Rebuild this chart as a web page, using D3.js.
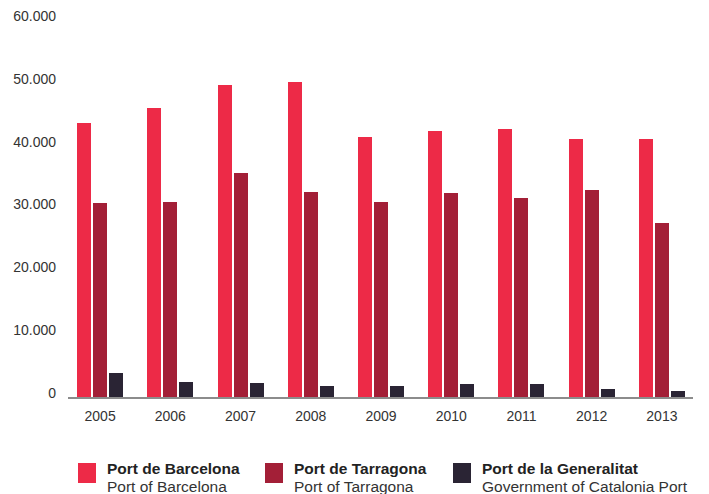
<!DOCTYPE html>
<html>
<head>
<meta charset="utf-8">
<script src="https://cdn.jsdelivr.net/npm/d3@7"></script>
<style>
	body { margin: 0; background: #fff; }
	svg { display: block; font-family: "Liberation Sans", Arial, Helvetica, sans-serif; }
	.tick text { fill: #333; font-size: 14px; }
</style>
</head>
<body>
<svg width="709" height="494"></svg>
<script>
var years = ["2005", "2006", "2007", "2008", "2009", "2010", "2011", "2012", "2013"];
var barcelona = [43600, 46000, 49700, 50200, 41400, 42400, 42700, 41100, 41100];
var tarragona = [30900, 31050, 35700, 32600, 31050, 32500, 31700, 33000, 27700];
var generalitat = [3800, 2400, 2200, 1750, 1750, 2070, 2070, 1270, 950];
var yTicks = [0, 10000, 20000, 30000, 40000, 50000, 60000];

var seriesNames = ["Port de Barcelona", "Port de Tarragona", "Port de la Generalitat"];
var seriesSub = ["Port of Barcelona", "Port of Tarragona", "Government of Catalonia Port"];
var colors = ["#ed2a47", "#a31f37", "#2a2434"];

var svg = d3.select("svg");

var data = years.map(function(y, i) {
	return { year: y, values: [barcelona[i], tarragona[i], generalitat[i]] };
});

var x0 = d3.scaleBand().domain(years).range([65, 697]);
var x1 = d3.scaleBand().domain([0, 1, 2]).range([0, 46]).paddingInner(0.125);
var y = d3.scaleLinear().domain([0, 60000]).range([397, 20.2]);

var locale = d3.formatLocale({ decimal: ",", thousands: ".", grouping: [3], currency: ["", "€"] });
var fmt = locale.format(",");

// y axis labels only
var yAxis = svg.append("g")
	.attr("transform", "translate(56,0)")
	.call(d3.axisLeft(y).tickValues(yTicks).tickFormat(fmt).tickSize(0).tickPadding(0));
yAxis.select(".domain").remove();
yAxis.selectAll("text").attr("dy", "0.02em").style("font-family", "inherit");

// bars
var groups = svg.append("g").selectAll("g")
	.data(data)
	.enter().append("g")
	.attr("transform", function(d) { return "translate(" + (x0(d.year) + (x0.bandwidth() - 46) / 2) + ",0)"; });

groups.selectAll("rect")
	.data(function(d) { return d.values; })
	.enter().append("rect")
	.attr("x", function(d, i) { return x1(i); })
	.attr("width", x1.bandwidth())
	.attr("y", function(d) { return y(d); })
	.attr("height", function(d) { return y(0) - y(d); })
	.attr("fill", function(d, i) { return colors[i]; })
	.attr("shape-rendering", "crispEdges");

// baseline
svg.append("line")
	.attr("x1", 68).attr("x2", 693)
	.attr("y1", 398).attr("y2", 398)
	.attr("stroke", "#8c8c8c")
	.attr("stroke-width", 2);

// x axis labels
var xAxis = svg.append("g")
	.attr("transform", "translate(0,411)")
	.call(d3.axisBottom(x0).tickSize(0).tickPadding(0));
xAxis.select(".domain").remove();
xAxis.selectAll("text").style("font-family", "inherit");

// legend
var legendX = [78, 265, 453];
var legend = svg.append("g").selectAll("g")
	.data(seriesNames)
	.enter().append("g")
	.attr("transform", function(d, i) { return "translate(" + legendX[i] + ",463)"; });

legend.append("rect")
	.attr("width", 18).attr("height", 20)
	.attr("fill", function(d, i) { return colors[i]; });

legend.append("text")
	.attr("x", 29).attr("y", 11)
	.style("font-size", "15.5px")
	.style("font-weight", "bold")
	.attr("fill", "#222")
	.text(function(d) { return d; });

legend.append("text")
	.attr("x", 29).attr("y", 29)
	.style("font-size", "15.5px")
	.attr("fill", "#333")
	.text(function(d, i) { return seriesSub[i]; });
</script>
</body>
</html>
